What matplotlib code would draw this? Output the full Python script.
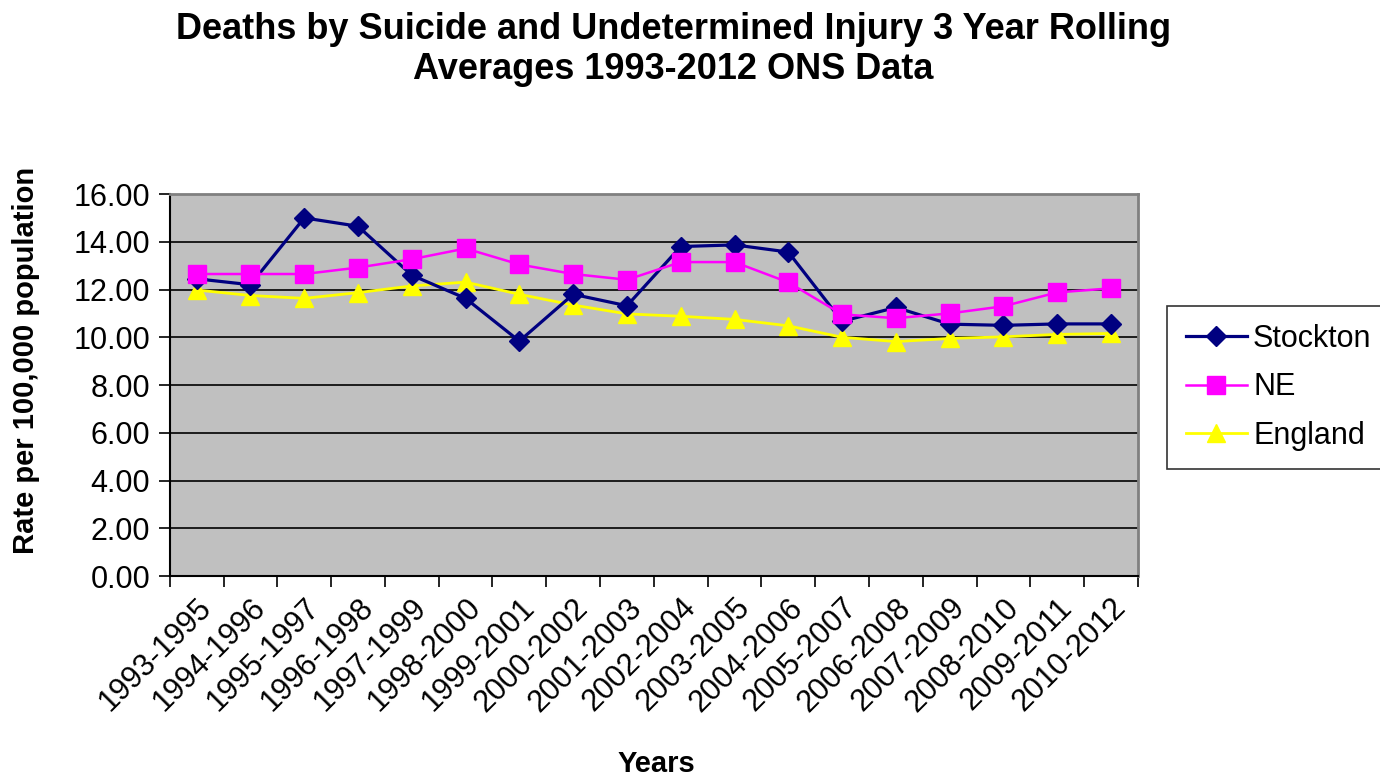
import matplotlib
matplotlib.use("Agg")
import matplotlib.pyplot as plt
import numpy as np

plt.rcParams['font.family'] = ['Liberation Sans', 'DejaVu Sans']

periods = ["1993-1995", "1994-1996", "1995-1997", "1996-1998", "1997-1999",
           "1998-2000", "1999-2001", "2000-2002", "2001-2003", "2002-2004",
           "2003-2005", "2004-2006", "2005-2007", "2006-2008", "2007-2009",
           "2008-2010", "2009-2011", "2010-2012"]
stockton = [12.45, 12.2, 15.0, 14.65, 12.6, 11.63, 9.84, 11.8, 11.32, 13.8,
            13.87, 13.57, 10.67, 11.25, 10.55, 10.5, 10.56, 10.56]
ne = [12.65, 12.65, 12.65, 12.92, 13.27, 13.72, 13.05, 12.65, 12.41, 13.15,
      13.15, 12.3, 10.96, 10.8, 11.0, 11.3, 11.88, 12.05]
england = [11.98, 11.75, 11.63, 11.87, 12.15, 12.31, 11.8, 11.35, 10.98, 10.88,
           10.75, 10.48, 10.0, 9.82, 9.95, 10.02, 10.12, 10.16]

fig = plt.figure(figsize=(13.8, 7.78), dpi=100)
ax = fig.add_axes([0.123, 0.2596, 0.7016, 0.491])
ax.set_facecolor('#C0C0C0')

x = np.arange(len(periods))
ax.plot(x, stockton, color='#000080', marker='D', markersize=10, lw=2.3, label='Stockton', zorder=3)
ax.plot(x, ne, color='#FF00FF', marker='s', markersize=13, lw=1.8, label='NE', zorder=4)
ax.plot(x, england, color='#FFFF00', marker='^', markersize=13, lw=2, label='England', zorder=2)

ax.set_xlim(-0.5, len(periods) - 0.5)
ax.set_ylim(0, 16)
ax.set_yticks(np.arange(0, 17, 2))
ax.set_yticklabels([f"{v:.2f}" for v in np.arange(0, 17, 2)], fontsize=22)
ax.yaxis.grid(True, color='black', lw=1.2)
ax.set_axisbelow(True)

ax.set_xticks(x)
ax.set_xticklabels(periods, rotation=45, ha='right', rotation_mode='anchor', fontsize=22)
ax.tick_params(axis='x', length=0, pad=12)
ax.set_xticks(np.arange(-0.5, len(periods), 1), minor=True)
ax.tick_params(axis='x', which='minor', length=8, width=1.2, color='black')
ax.tick_params(axis='y', length=8, width=1.2, color='black', pad=6)

for s in ['top', 'right']:
    ax.spines[s].set_color('#808080')
    ax.spines[s].set_linewidth(2)
for s in ['left', 'bottom']:
    ax.spines[s].set_color('black')
    ax.spines[s].set_linewidth(1.5)

ax.set_ylabel("Rate per 100,000 population", fontsize=21, fontweight='bold')
ax.yaxis.set_label_coords(-0.134, 0.565)
fig.text(0.476, 0.0, "Years", fontsize=21, fontweight='bold', ha='center', va='bottom')
fig.text(0.488, 0.985, "Deaths by Suicide and Undetermined Injury 3 Year Rolling\nAverages 1993-2012 ONS Data",
         fontsize=26, fontweight='bold', ha='center', va='top', linespacing=1.2)

leg = fig.legend(loc='upper left', bbox_to_anchor=(0.846, 0.607), fontsize=22,
                 frameon=True, fancybox=False, edgecolor='black', handlelength=2.0,
                 labelspacing=0.6, borderpad=0.6, handletextpad=0.2, borderaxespad=0)
leg.get_frame().set_linewidth(1.2)

fig.savefig("out.png", dpi=100)
